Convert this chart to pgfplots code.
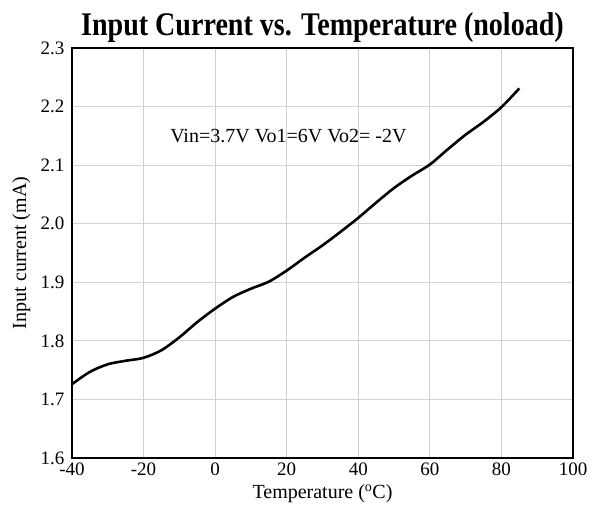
\documentclass[border=0pt]{standalone}
\usepackage{fontspec}
\setmainfont{Liberation Serif}
\newfontfamily\titlefont[FakeStretch=0.85]{Liberation Serif}
\usepackage{pgfplots}
\pgfplotsset{compat=1.18}

\begin{document}
\begin{tikzpicture}
\begin{axis}[
  scale only axis, width=501pt, height=410pt,
  xmin=-40, xmax=100, ymin=1.6, ymax=2.3,
  xtick={-40,-20,...,100}, ytick={1.6,1.7,...,2.3},
  /pgf/number format/assume math mode=true,
  ticklabel style={font=\fontsize{19}{22}\selectfont},
  xticklabel style={anchor=base, yshift=-18pt},
  yticklabel style={anchor=east, xshift=-4pt,
    /pgf/number format/.cd, fixed, fixed zerofill, precision=1},
  major tick length=0pt,
  grid=major, grid style={black!18, line width=0.9pt},
  axis line style={line width=1.4pt},
  title={\titlefont\bfseries\fontsize{33}{38}\selectfont Input Current vs. Temperature (noload)},
  title style={at={(axis description cs:0.5,1)}, anchor=base, yshift=6pt},
  xlabel={Temperature (\textsuperscript{o}C)},
  ylabel={Input current (mA)},
  label style={font=\fontsize{20}{24}\selectfont},
  xlabel style={at={(axis description cs:0.5,0)}, anchor=base, yshift=-41pt},
  ylabel style={at={(axis description cs:-0.0918,0.5)}, anchor=base},
]
\addplot[black, line width=2.6pt, smooth] coordinates {
 (-40,1.726) (-35,1.747) (-30,1.760) (-25,1.766) (-20,1.771) (-15,1.784)
 (-10,1.806) (-5,1.832) (0,1.855) (5,1.875) (10,1.889) (15,1.901)
 (20,1.920) (25,1.942) (30,1.963) (35,1.986) (40,2.010) (45,2.036)
 (50,2.061) (55,2.082) (60,2.101) (65,2.127) (70,2.152) (75,2.174)
 (80,2.199) (85,2.231)};
\node[anchor=base west, font=\fontsize{20}{24}\selectfont, inner sep=0pt] at (axis cs:-12.6,2.138) {Vin=3.7V Vo1=6V Vo2= -2V};
\end{axis}
\path (current axis.south west) ++(-72pt,-59pt);
\path (current axis.north east) ++(19pt,48pt);
\end{tikzpicture}
\end{document}
